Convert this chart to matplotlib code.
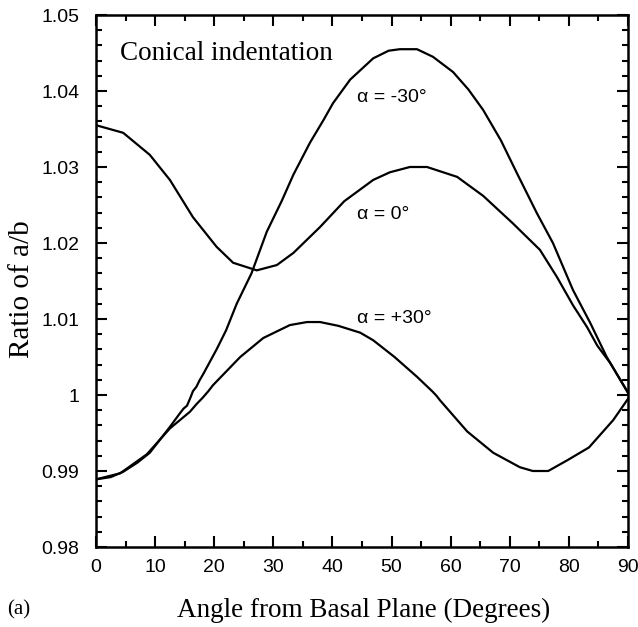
import matplotlib
matplotlib.use("Agg")
import matplotlib.pyplot as plt
from matplotlib.ticker import MultipleLocator, FixedLocator

# ---- data ----
x_m30 = [0, 2.5, 4.6, 7, 9.1, 12.5, 14.2, 14.8, 15.4, 16.0, 16.4, 17.0, 17.5, 18.1, 20.4, 22,
         23.8, 26.3, 28.9, 31.4, 33.4, 36.2, 38.5, 40.1, 43, 46.9, 49.5, 51.4, 54.3, 57,
         60.4, 63, 65.5, 68.5, 71.2, 74.6, 77.3, 80.7, 83.6, 86.4, 90]
y_m30 = [0.9889, 0.9892, 0.9899, 0.9911, 0.9924, 0.9958, 0.9976, 0.9982, 0.9986, 0.9997, 1.0005, 1.0011, 1.0019, 1.0027, 1.0060, 1.0085,
         1.0120, 1.0160, 1.0215, 1.0255, 1.0290, 1.0332, 1.0362, 1.0384, 1.0415, 1.0443, 1.0453, 1.0455, 1.0455, 1.0445,
         1.0425, 1.0402, 1.0375, 1.0335, 1.0292, 1.0239, 1.0200, 1.0138, 1.0095, 1.0050, 1.0003]

x_0 = [0, 4.6, 9.1, 12.5, 16.4, 20.4, 23.2, 27.2, 30.6, 33.4, 37.9, 42, 46.9, 49.7, 53.1,
       56.0, 61.1, 65.5, 70.5, 75.1, 78.0, 80.7, 83.1, 84.8, 87.0, 90]
y_0 = [1.0355, 1.0345, 1.0316, 1.0283, 1.0234, 1.0195, 1.0174, 1.0164, 1.0171, 1.0187, 1.0221, 1.0255, 1.0283, 1.0293, 1.0300,
       1.0300, 1.0287, 1.0262, 1.0226, 1.0191, 1.0155, 1.0118, 1.0089, 1.0065, 1.0042, 1.0003]

x_p30 = [0, 4.1, 8.6, 12.5, 15.9, 17.0, 18.0, 19.0, 19.8, 24.4, 28.3, 32.8, 35.7, 37.9, 41, 44.7,
         46.9, 50.5, 54.3, 57.0, 57.6, 58.2, 62.8, 67.2, 71.7, 73.9, 76.5, 79.7, 83.4, 87.5, 90]
y_p30 = [0.9889, 0.9897, 0.9922, 0.9956, 0.9978, 0.9988, 0.9996, 1.0005, 1.0013, 1.0050, 1.0075, 1.0092, 1.0096, 1.0096, 1.0091, 1.0082,
         1.0072, 1.0050, 1.0024, 1.0004, 0.9999, 0.9993, 0.9952, 0.9924, 0.9905, 0.9900, 0.9900, 0.9914, 0.9931, 0.9967, 0.9995]

labels = ["α = -30°", "α = 0°", "α = +30°"]
x_ticks = [0, 10, 20, 30, 40, 50, 60, 70, 80, 90]
y_ticks = [0.98, 0.99, 1.00, 1.01, 1.02, 1.03, 1.04, 1.05]
y_ticklabels = ["0.98", "0.99", "1", "1.01", "1.02", "1.03", "1.04", "1.05"]

serif = ["Liberation Serif", "DejaVu Serif"]
sans = ["Liberation Sans", "DejaVu Sans"]

fig = plt.figure(figsize=(6.38, 6.27), dpi=100)
ax = fig.add_axes([96 / 638, 1 - 547 / 627, 532 / 638, 532 / 627])

for xs, ys in [(x_m30, y_m30), (x_0, y_0), (x_p30, y_p30)]:
    ax.plot(xs, ys, color="black", lw=1.6, solid_joinstyle="round")

ax.set_xlim(0, 90)
ax.set_ylim(0.98, 1.05)
ax.xaxis.set_major_locator(FixedLocator(x_ticks))
ax.xaxis.set_minor_locator(MultipleLocator(5))
ax.yaxis.set_major_locator(FixedLocator(y_ticks))
ax.yaxis.set_minor_locator(MultipleLocator(0.002))
ax.set_yticklabels(y_ticklabels)
ax.tick_params(which="both", direction="in", top=True, right=True, width=1.5)
ax.tick_params(which="major", length=8, labelsize=14, pad=9)
ax.tick_params(which="minor", length=4)
ax.tick_params(axis="y", which="major", pad=12)
for lab in ax.get_xticklabels() + ax.get_yticklabels():
    lab.set_fontfamily(sans)
for sp in ax.spines.values():
    sp.set_linewidth(1.8)

ax.set_xlabel("Angle from Basal Plane (Degrees)", fontsize=19.5, family=serif)
ax.xaxis.label.set_va("center")
ax.xaxis.set_label_coords((364 - 96) / 532, (547 - 610) / 532)
ax.set_ylabel("Ratio of a/b", fontsize=21, family=serif)
ax.yaxis.label.set_va("center")
ax.yaxis.set_label_coords((22 - 96) / 532, (547 - 289) / 532)

ax.text((120 - 96) / 532, (547 - 60) / 532, "Conical indentation", transform=ax.transAxes,
        fontsize=19.5, family=serif, va="baseline", ha="left")

label_pos = [(44.2, 1.0391), (44.2, 1.0237), (44.2, 1.0101)]
for lab, (lx, ly) in zip(labels, label_pos):
    ax.text(lx, ly, lab, fontsize=14, family=sans, va="center", ha="left")

fig.text(7 / 638, 1 - 610 / 627, "(a)", fontsize=15, family=serif, va="center", ha="left")

fig.savefig("out.png", dpi=100)
